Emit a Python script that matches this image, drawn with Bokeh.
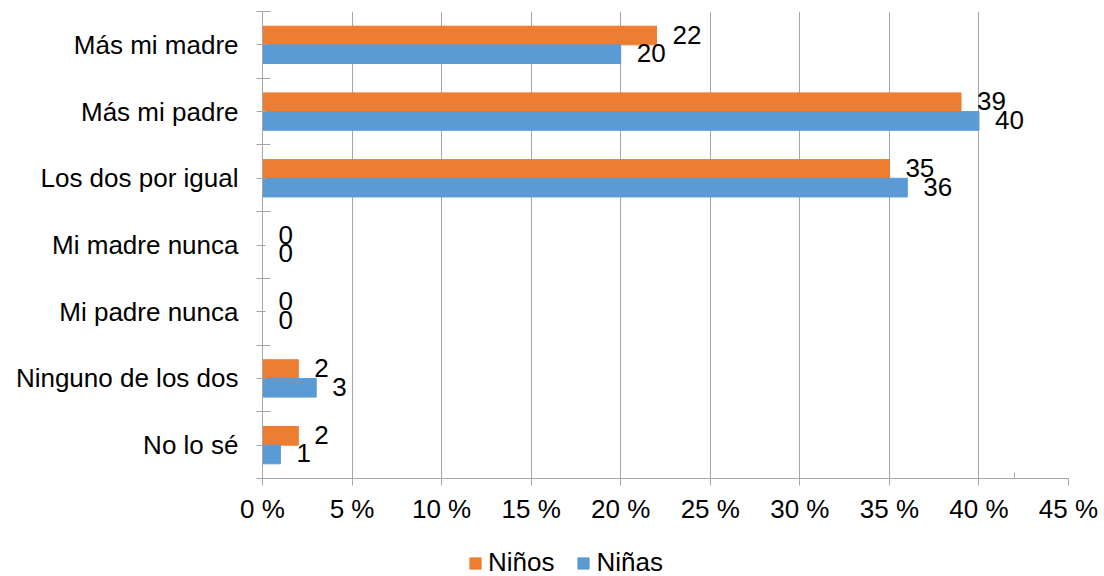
from bokeh.plotting import figure
from bokeh.layouts import column
from bokeh.models import FixedTicker, Legend, LegendItem, ColumnDataSource
from bokeh.transform import dodge
from bokeh.core.properties import value
from bokeh.embed import file_html
from bokeh.resources import INLINE

categories = ["Más mi madre", "Más mi padre", "Los dos por igual", "Mi madre nunca",
              "Mi padre nunca", "Ninguno de los dos", "No lo sé"]
ninos = [22, 39, 35, 0, 0, 2, 2]
ninas = [20, 40, 36, 0, 0, 3, 1]
series_names = ["Niños", "Niñas"]
x_ticks = [0, 5, 10, 15, 20, 25, 30, 35, 40, 45]
x_tick_labels = ["0 %", "5 %", "10 %", "15 %", "20 %", "25 %", "30 %", "35 %", "40 %", "45 %"]
x_minor_ticks = [42]

ORANGE = "#ED7D31"
BLUE = "#5B9BD5"
GRAY = "#A6A6A6"
FONT = "Liberation Sans"
FS = "26px"

n = len(categories)
pos = [n - 1 - i for i in range(n)]
src = ColumnDataSource(dict(
    pos=pos, cat=categories, ninos=ninos, ninas=ninas,
    ninos_lbl=[str(v) for v in ninos], ninas_lbl=[str(v) for v in ninas],
))

H1 = 530
p = figure(width=1104, height=H1, x_range=(0, 45), y_range=(-0.5, n - 0.5),
           output_backend="svg", toolbar_location=None,
           min_border_left=262, min_border_right=36, min_border_top=11,
           min_border_bottom=H1 - 478)
p.outline_line_color = None
p.background_fill_color = "white"
p.border_fill_color = "white"

bw = 0.28
p.hbar(y=dodge("pos", bw / 2), left=0, right="ninos", height=bw, color=ORANGE, source=src)
p.hbar(y=dodge("pos", -bw / 2), left=0, right="ninas", height=bw, color=BLUE, source=src)

for fld, off in (("ninos", bw / 2), ("ninas", -bw / 2)):
    p.text(x=fld, y=dodge("pos", off), text=fld + "_lbl", x_offset=16, y_offset=-1,
           text_baseline="middle", text_align="left", text_font=value(FONT),
           text_font_size=FS, text_color="black", source=src)

# x axis
p.xaxis.ticker = FixedTicker(ticks=x_ticks, minor_ticks=x_minor_ticks)
p.xaxis.major_label_overrides = {t: l for t, l in zip(x_ticks, x_tick_labels)}
p.xaxis.axis_line_color = GRAY
p.xaxis.major_tick_line_color = GRAY
p.xaxis.minor_tick_line_color = GRAY
p.xaxis.major_tick_out = 7
p.xaxis.major_tick_in = 0
p.xaxis.minor_tick_out = 0
p.xaxis.minor_tick_in = 6
p.xaxis.major_label_text_font = FONT
p.xaxis.major_label_text_font_size = FS
p.xaxis.major_label_text_color = "black"
p.xaxis.major_label_standoff = 8

# y axis
p.yaxis.ticker = FixedTicker(ticks=pos, minor_ticks=[i - 0.5 for i in range(n + 1)])
p.yaxis.major_label_overrides = {pp: c for pp, c in zip(pos, categories)}
p.yaxis.axis_line_color = GRAY
p.yaxis.major_tick_line_color = GRAY
p.yaxis.minor_tick_line_color = GRAY
p.yaxis.major_tick_out = 6
p.yaxis.major_tick_in = 3
p.yaxis.minor_tick_out = 6
p.yaxis.minor_tick_in = 8
p.yaxis.major_label_text_font = FONT
p.yaxis.major_label_text_font_size = FS
p.yaxis.major_label_text_color = "black"
p.yaxis.major_label_standoff = 18

p.ygrid.visible = False
p.xgrid.grid_line_color = GRAY
p.xgrid.grid_line_width = 1

# legend strip below the chart
H2 = 576 - H1
pl = figure(width=1104, height=H2, x_range=(0, 1), y_range=(0, 1),
            x_axis_type=None, y_axis_type=None, output_backend="svg",
            toolbar_location=None, min_border=0)
pl.outline_line_color = None
pl.background_fill_color = "white"
pl.border_fill_color = "white"
lr1 = pl.hbar(y="pos", right="ninos", height=bw, color=ORANGE, source=src, visible=False)
lr2 = pl.hbar(y="pos", right="ninas", height=bw, color=BLUE, source=src, visible=False)
legend = Legend(items=[LegendItem(label=series_names[0], renderers=[lr1]),
                       LegendItem(label=series_names[1], renderers=[lr2])],
                orientation="horizontal", location=(206, -2),
                glyph_width=14, glyph_height=14, label_standoff=6, spacing=22,
                padding=0, margin=0, border_line_color=None, background_fill_alpha=0,
                label_text_font=FONT, label_text_font_size=FS, label_text_color="black")
pl.add_layout(legend)

open("out.html", "w").write(file_html(column(p, pl, spacing=0), INLINE))
